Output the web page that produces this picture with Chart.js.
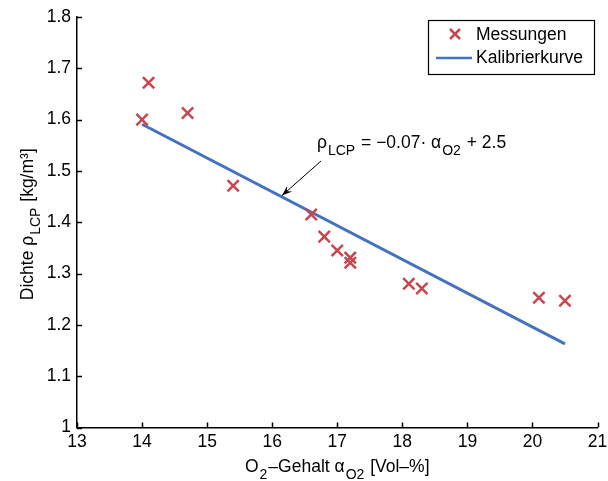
<!DOCTYPE html>
<html>
<head>
<meta charset="utf-8">
<script src="https://cdn.jsdelivr.net/npm/chart.js@4/dist/chart.umd.min.js"></script>
<style>
  html, body { margin: 0; padding: 0; background: #fff; }
  #wrap { width: 608px; height: 481px; position: relative; }
</style>
</head>
<body>
<div id="wrap"><canvas id="c" width="608" height="481"></canvas></div>
<script>
// Messwerte: O2-Gehalt [Vol-%] und Dichte [kg/m³]
const o2Gehalt = [14.0, 14.1, 14.7, 15.4, 16.6, 16.8, 17.0, 17.2, 17.2, 18.1, 18.3, 20.1, 20.5];
const dichte   = [1.600, 1.672, 1.613, 1.471, 1.415, 1.372, 1.345, 1.331, 1.321, 1.280, 1.271, 1.253, 1.247];

// Kalibrierkurve (Endpunkte der Ausgleichsgeraden)
const kurveX = [14.0, 20.5];
const kurveY = [1.591, 1.163];

// Achsenbereiche und Beschriftungen
const xTicks = [13, 14, 15, 16, 17, 18, 19, 20, 21];
const yTicks = [1, 1.1, 1.2, 1.3, 1.4, 1.5, 1.6, 1.7, 1.8];
const yTickLabels = ['1', '1.1', '1.2', '1.3', '1.4', '1.5', '1.6', '1.7', '1.8'];

const RED = '#c8474f';
const BLUE = '#4572bf';
const FONT = '"Liberation Sans", Arial, Helvetica, sans-serif';
const FS = 17.5;

// Text mit Tiefstellungen zeichnen: Segmente [{t, sub}]
function richText(ctx, parts, x, y, size, align) {
  const subSize = Math.round(size * 0.8);
  let total = 0;
  parts.forEach(p => {
    ctx.font = (p.sub ? subSize : size) + 'px ' + FONT;
    total += ctx.measureText(p.t).width + (p.sub ? 2 : 0);
  });
  let cx = align === 'center' ? x - total / 2 : x;
  ctx.textBaseline = 'alphabetic';
  ctx.textAlign = 'left';
  parts.forEach(p => {
    ctx.font = (p.sub ? subSize : size) + 'px ' + FONT;
    if (p.sub) cx += 1;
    ctx.fillText(p.t, cx, y + (p.sub ? size * 0.4 : 0));
    cx += ctx.measureText(p.t).width + (p.sub ? 1 : 0);
  });
}

const decorations = {
  id: 'decorations',
  afterDraw(chart) {
    const ctx = chart.ctx;
    const xs = chart.scales.x, ys = chart.scales.y;
    const area = chart.chartArea;
    ctx.save();
    ctx.strokeStyle = '#000';
    ctx.lineWidth = 1.5;
    // nach innen gerichtete Teilstriche
    xTicks.forEach(v => {
      const px = Math.round(xs.getPixelForValue(v)) + 0.5;
      ctx.beginPath(); ctx.moveTo(px, area.bottom); ctx.lineTo(px, area.bottom - 5); ctx.stroke();
    });
    yTicks.forEach(v => {
      const py = Math.round(ys.getPixelForValue(v)) + 0.5;
      ctx.beginPath(); ctx.moveTo(area.left, py); ctx.lineTo(area.left + 5, py); ctx.stroke();
    });

    ctx.fillStyle = '#000';
    // x-Achsentitel
    richText(ctx, [
      {t: 'O'}, {t: '2', sub: true}, {t: '\u2013Gehalt \u03B1'}, {t: 'O2', sub: true}, {t: ' [Vol\u2013%]'}
    ], (area.left + area.right) / 2, 472, FS, 'center');

    // y-Achsentitel (gedreht)
    ctx.save();
    ctx.translate(33, (area.top + area.bottom) / 2 + 2);
    ctx.rotate(-Math.PI / 2);
    richText(ctx, [
      {t: 'Dichte \u03C1'}, {t: 'LCP', sub: true}, {t: ' [kg/m\u00B3]'}
    ], 0, 0, FS, 'center');
    ctx.restore();

    // Gleichung der Kalibrierkurve mit Pfeil
    const ex = xs.getPixelForValue(16.15), ey = ys.getPixelForValue(1.452);
    richText(ctx, [
      {t: '\u03C1'}, {t: 'LCP', sub: true}, {t: ' = \u22120.07\u00B7 \u03B1'}, {t: 'O2', sub: true}, {t: ' + 2.5'}
    ], 317, 148, FS, 'left');
    const tx = 321, ty = 161;
    ctx.lineWidth = 1;
    ctx.beginPath(); ctx.moveTo(tx, ty); ctx.lineTo(ex, ey); ctx.stroke();
    const ang = Math.atan2(ey - ty, ex - tx);
    const hl = 11, hw = 0.35;
    ctx.beginPath();
    ctx.moveTo(ex, ey);
    ctx.lineTo(ex - hl * Math.cos(ang - hw), ey - hl * Math.sin(ang - hw));
    ctx.lineTo(ex - hl * 0.6 * Math.cos(ang), ey - hl * 0.6 * Math.sin(ang));
    ctx.lineTo(ex - hl * Math.cos(ang + hw), ey - hl * Math.sin(ang + hw));
    ctx.closePath(); ctx.fill();

    // Legende
    const lx = 428, ly = 20, lw = 166, lh = 54;
    ctx.fillStyle = '#fff';
    ctx.fillRect(lx, ly, lw, lh);
    ctx.strokeStyle = '#000';
    ctx.lineWidth = 1.2;
    ctx.strokeRect(lx + 0.5, ly + 0.5, lw, lh);
    // Kreuz
    ctx.strokeStyle = RED; ctx.lineWidth = 2.5;
    const mx = 455, my = 34, r = 5;
    ctx.beginPath();
    ctx.moveTo(mx - r, my - r); ctx.lineTo(mx + r, my + r);
    ctx.moveTo(mx + r, my - r); ctx.lineTo(mx - r, my + r);
    ctx.stroke();
    // Linie
    ctx.strokeStyle = BLUE; ctx.lineWidth = 2.5;
    ctx.beginPath(); ctx.moveTo(436, 58); ctx.lineTo(472, 58); ctx.stroke();
    ctx.fillStyle = '#000';
    ctx.font = FS + 'px ' + FONT;
    ctx.textBaseline = 'middle'; ctx.textAlign = 'left';
    ctx.fillText('Messungen', 476, 35);
    ctx.fillText('Kalibrierkurve', 476, 58);
    ctx.restore();
  }
};

new Chart(document.getElementById('c'), {
  type: 'scatter',
  data: {
    datasets: [
      {
        label: 'Kalibrierkurve',
        data: kurveX.map((x, i) => ({x, y: kurveY[i]})),
        showLine: true,
        borderColor: BLUE,
        borderWidth: 3,
        pointRadius: 0,
        fill: false,
        order: 2
      },
      {
        label: 'Messungen',
        data: o2Gehalt.map((x, i) => ({x, y: dichte[i]})),
        pointStyle: 'crossRot',
        pointRadius: 8,
        borderColor: RED,
        backgroundColor: RED,
        pointBorderWidth: 2.5,
        showLine: false,
        order: 1
      }
    ]
  },
  options: {
    responsive: false,
    animation: false,
    events: [],
    layout: { padding: { top: 17, right: 0, left: 0, bottom: 0 } },
    plugins: { legend: { display: false }, tooltip: { enabled: false } },
    scales: {
      x: {
        type: 'linear', min: 13, max: 21,
        afterBuildTicks: s => { s.ticks = xTicks.map(v => ({value: v})); },
        afterFit: s => { s.height = 53.5; s.paddingRight = 9; s.paddingLeft = 0; },
        grid: { display: false, drawTicks: false },
        border: { display: true, color: '#000', width: 1.5 },
        ticks: { color: '#000', padding: 4, maxRotation: 0, font: { family: FONT, size: FS } }
      },
      y: {
        type: 'linear', min: 1, max: 1.8,
        afterBuildTicks: s => { s.ticks = yTicks.map(v => ({value: v})); },
        afterFit: s => { s.width = 77; s.paddingTop = 0; s.paddingBottom = 0; },
        grid: { display: false, drawTicks: false },
        border: { display: true, color: '#000', width: 1.5 },
        ticks: {
          color: '#000', padding: 6, font: { family: FONT, size: FS },
          callback: v => yTickLabels[yTicks.findIndex(t => Math.abs(t - v) < 1e-6)]
        }
      }
    }
  },
  plugins: [decorations]
});
</script>
</body>
</html>
